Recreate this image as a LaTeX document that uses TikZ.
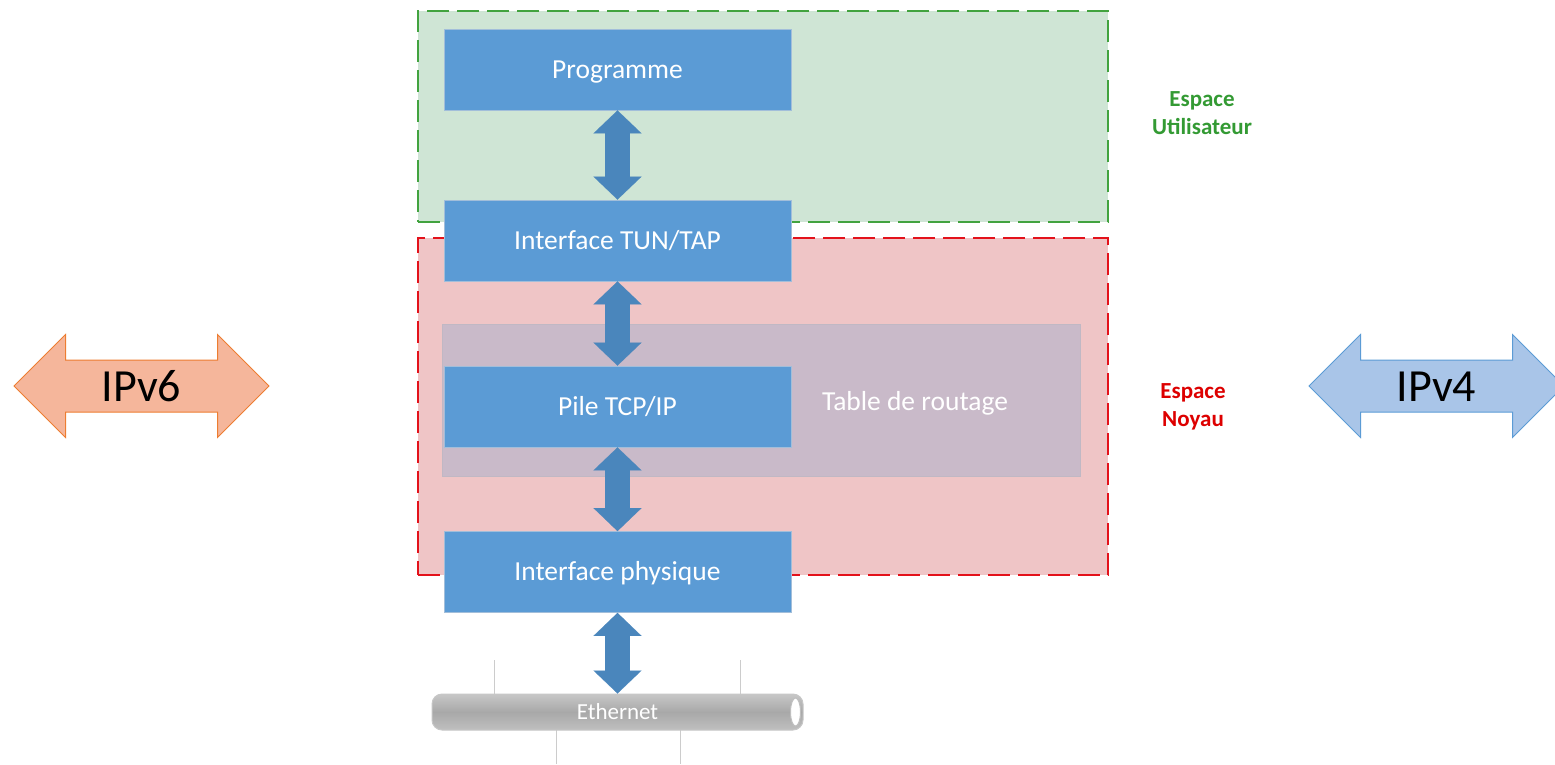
\documentclass[tikz,border=0pt]{standalone}
\usepackage{fontspec}
\setmainfont{Carlito}
\usetikzlibrary{arrows.meta,shapes.arrows,calc}
\definecolor{greenfill}{HTML}{CFE5D5}
\definecolor{greenline}{HTML}{42A33F}
\definecolor{greentext}{HTML}{339A33}
\definecolor{redfill}{HTML}{EFC5C6}
\definecolor{redline}{HTML}{E3121B}
\definecolor{redtext}{HTML}{DD0000}
\definecolor{tablefill}{HTML}{C9BAC9}
\definecolor{tableline}{HTML}{C0B8C4}
\definecolor{boxblue}{HTML}{5B9BD5}
\definecolor{boxedge}{HTML}{A2BEDA}
\definecolor{arrowblue}{HTML}{4A86BC}
\definecolor{sixfill}{HTML}{F5B69B}
\definecolor{sixline}{HTML}{ED7D31}
\definecolor{fourfill}{HTML}{A9C5E8}
\definecolor{fourline}{HTML}{5B9BD5}
\definecolor{wire}{HTML}{CCCCCC}
\begin{document}
\begin{tikzpicture}[x=1pt,y=-1pt,
  layer/.style={rectangle, line width=1.3pt, dash pattern=on 22pt off 8pt, inner sep=0pt},
  bluebox/.style={rectangle, fill=boxblue, draw=boxedge, line width=0.8pt,
    minimum width=347pt, minimum height=81pt, inner sep=0pt, text=white,
    text height=22.9pt, text depth=5.1pt,
    font=\fontsize{27.5}{33}\selectfont},
  dbl/.style={draw=arrowblue, line width=25pt,
    {Triangle[length=23pt,width=48pt,line width=0.1pt]}-{Triangle[length=23pt,width=48pt,line width=0.1pt]}},
  bigarrow/.style={double arrow, minimum height=255pt, minimum width=102pt,
    double arrow head extend=25.5pt, inner sep=0pt, line width=1pt,
    text height=41pt, text depth=10pt,
    font=\fontsize{46}{50}\selectfont},
  spacelabel/.style={align=center, font=\bfseries\fontsize{23}{28}\selectfont},
  wireline/.style={draw=wire, line width=1pt}
]
\useasboundingbox (0,0) rectangle (1555,764);

% spaces
\node[layer, fill=greenfill, draw=greenline, minimum width=690pt, minimum height=211pt] (user) at (763,116.5) {};
\node[layer, fill=redfill, draw=redline, minimum width=690pt, minimum height=337pt] (kernel) at (763,406.5) {};
\node[rectangle, fill=tablefill, draw=tableline, line width=0.8pt, minimum width=638pt, minimum height=152pt, inner sep=0pt] (table) at (761,400) {};
\node[text=white, font=\fontsize{27.5}{33}\selectfont, text height=22.9pt, text depth=5.1pt, inner sep=0pt] (tabletext) at (915,402) {Table de routage};

% labels
\node[spacelabel, text=greentext] (userlabel) at (1202,113) {Espace\\Utilisateur};
\node[spacelabel, text=redtext] (kernellabel) at (1193,407) {Espace\\Noyau};

% blue boxes
\node[bluebox] (prog) at (617.5,69.5) {Programme};
\node[bluebox] (tun) at (617.5,240.5) {Interface TUN/TAP};
\node[bluebox] (pile) at (617.5,406.5) {Pile TCP/IP};
\node[bluebox] (phys) at (617.5,572) {Interface physique};

% ethernet
\coordinate (w1a) at (494,660); \coordinate (w1b) at (494,694);
\coordinate (w2a) at (740,660); \coordinate (w2b) at (740,694);
\coordinate (w3a) at (556,730); \coordinate (w3b) at (556,764);
\coordinate (w4a) at (680,730); \coordinate (w4b) at (680,764);
\draw[wireline] (w1a) -- (w1b);
\draw[wireline] (w2a) -- (w2b);
\draw[wireline] (w3a) -- (w3b);
\draw[wireline] (w4a) -- (w4b);
\node[rectangle, rounded corners=10pt, top color=black!22, bottom color=black!25, middle color=black!34,
  draw=black!22, line width=1pt, minimum width=371pt, minimum height=36pt, inner sep=0pt,
  text=white, font=\fontsize{23}{27}\selectfont] (eth) at (617.5,712) {Ethernet};
\fill[white, draw=black!25, line width=1pt] ($(eth.east)+(-8,0)$) ellipse [x radius=5pt, y radius=14pt];

% vertical double arrows
\draw[dbl] (prog.south) -- (tun.north);
\draw[dbl] (tun.south) -- (pile.north);
\draw[dbl] (pile.south) -- (phys.north);
\draw[dbl] (phys.south) -- (eth.north);

% IPv6 / IPv4
\node[bigarrow, fill=sixfill, draw=sixline] (ipv6) at (141.5,386) {IPv6};
\node[bigarrow, fill=fourfill, draw=fourline] (ipv4) at (1436.5,386) {IPv4};
\end{tikzpicture}
\end{document}
